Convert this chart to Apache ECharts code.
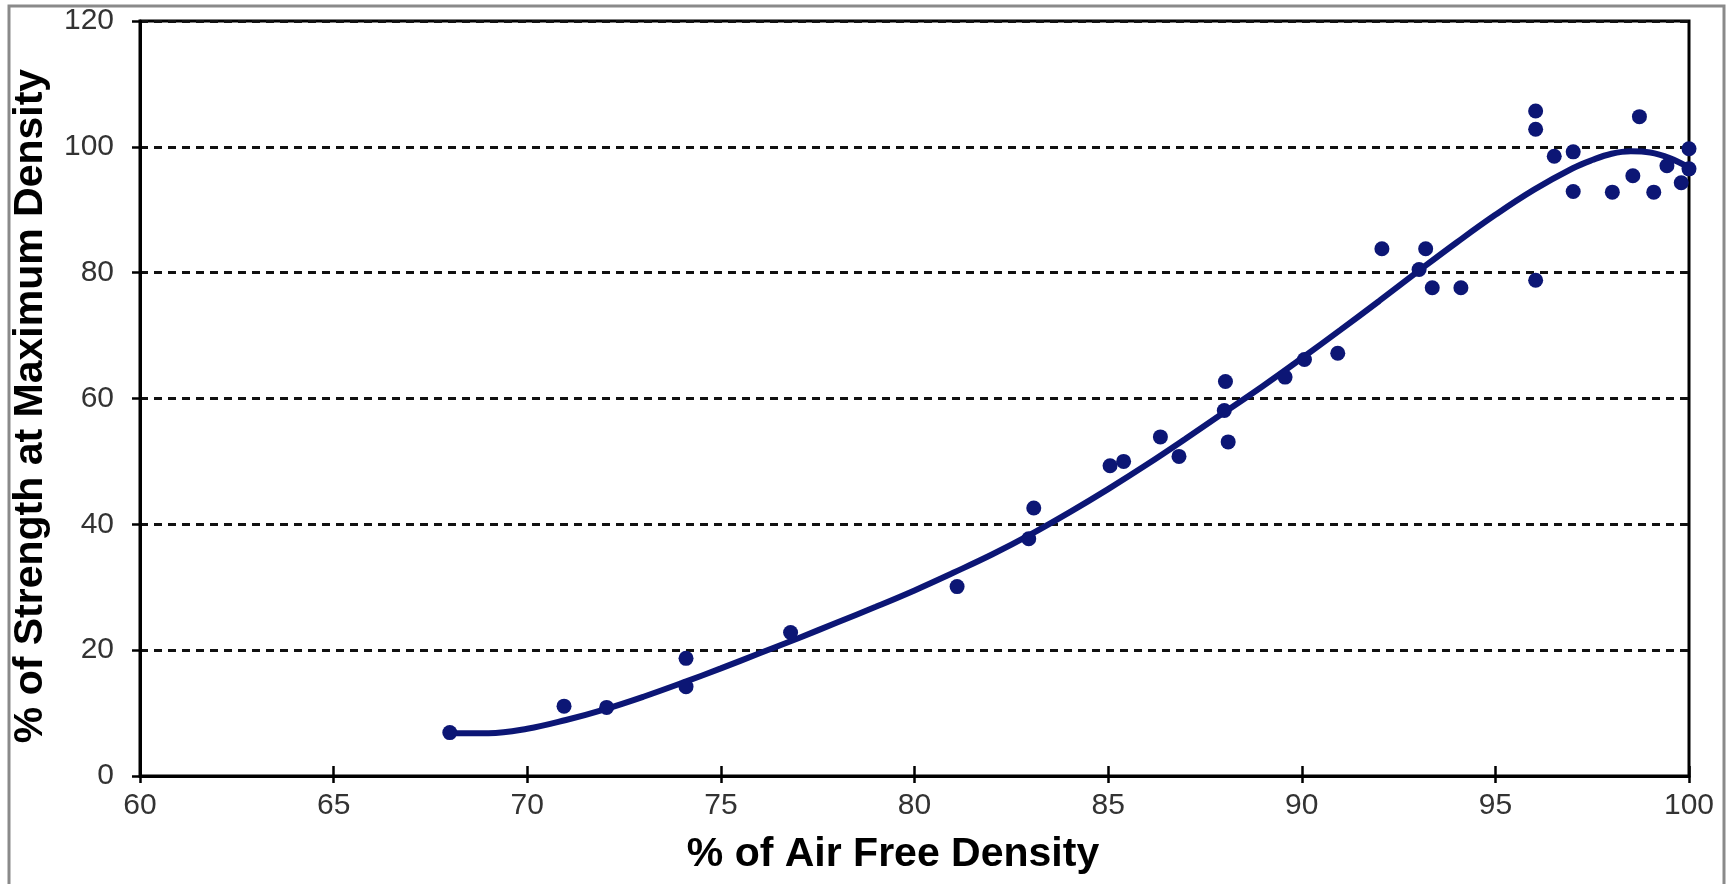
<!DOCTYPE html>
<html>
<head>
<meta charset="utf-8">
<script src="https://cdn.jsdelivr.net/npm/echarts@6/dist/echarts.min.js"></script>
<style>
  html, body { margin: 0; padding: 0; background: #ffffff; }
  #chart { width: 1731px; height: 884px; }
</style>
</head>
<body>
<div id="chart"></div>
<script>
// Measured data points (% of Air Free Density, % of Strength at Maximum Density)
const pointsX = [68.0, 70.95, 72.05, 74.1, 74.1, 76.8, 81.1, 82.95, 83.08, 85.05, 85.4, 86.35, 86.83,
  88.03, 88.0, 88.1, 89.57, 90.07, 90.93, 92.07, 93.03, 93.2, 93.37, 94.11, 96.04, 96.04, 96.04,
  96.52, 97.01, 97.01, 98.02, 98.55, 98.72, 99.09, 99.43, 99.8, 100.0, 100.0];
const pointsY = [6.9, 11.1, 10.9, 18.7, 14.2, 22.8, 30.1, 37.7, 42.6, 49.3, 50.0, 53.9, 50.8,
  62.7, 58.1, 53.1, 63.4, 66.2, 67.2, 83.8, 80.5, 83.8, 77.6, 77.6, 105.7, 102.8, 78.8,
  98.5, 99.2, 92.9, 92.8, 95.4, 104.8, 92.8, 97.0, 94.3, 99.7, 96.5];

// Trend curve
const curveX = [68, 69, 70, 71, 72, 73, 74, 75, 76, 77, 78, 79, 80, 81, 82, 83, 84, 85, 86, 87, 88,
  89, 90, 91, 92, 93, 94, 95, 96, 97, 97.5, 98, 98.5, 99, 99.5, 100];
const curveY = [6.8, 6.8, 7.5, 8.9, 10.6, 12.6, 14.8, 17.1, 19.5, 21.9, 24.4, 26.9, 29.5, 32.3, 35.2,
  38.4, 41.9, 45.6, 49.5, 53.6, 57.8, 62.0, 66.4, 70.9, 75.5, 80.2, 84.8, 89.2, 93.2, 96.6, 97.9,
  98.9, 99.3, 99.1, 98.2, 96.7];

const xTitle = '% of Air Free Density';
const yTitle = '% of Strength at Maximum Density';
const xRange = [60, 100, 5];
const yRange = [0, 120, 20];

const FONT = "'Liberation Sans', Arial, Helvetica, sans-serif";
const NAVY = '#0c1675';

const chart = echarts.init(document.getElementById('chart'), null, { renderer: 'canvas' });

const scatterData = pointsX.map((x, i) => [x, pointsY[i]]);
const curveData = curveX.map((x, i) => [x, curveY[i]]);

chart.setOption({
  backgroundColor: '#ffffff',
  animation: false,
  grid: {
    left: 140, right: 42, top: 21, bottom: 108,
    show: true, borderColor: '#000', borderWidth: 3, backgroundColor: 'transparent'
  },
  xAxis: [
    {
      type: 'value', min: xRange[0], max: xRange[1], interval: xRange[2],
      axisLine: { show: true, onZero: false, lineStyle: { color: '#000', width: 3 } },
      axisTick: { show: true, inside: false, length: 7, lineStyle: { color: '#000', width: 2.5 } },
      axisLabel: { color: '#333', fontSize: 30, fontFamily: FONT, margin: 15 },
      splitLine: { show: false }
    },
    {
      type: 'value', min: xRange[0], max: xRange[1], interval: xRange[2], position: 'bottom',
      axisLine: { show: false },
      axisTick: { show: true, inside: true, length: 10, lineStyle: { color: '#000', width: 2.5 } },
      axisLabel: { show: false },
      splitLine: { show: false }
    }
  ],
  yAxis: {
    type: 'value', min: yRange[0], max: yRange[1], interval: yRange[2],
    axisLine: { show: true, onZero: false, lineStyle: { color: '#000', width: 3 } },
    axisTick: { show: true, inside: false, length: 8, lineStyle: { color: '#000', width: 2.5 } },
    axisLabel: { color: '#333', fontSize: 30, fontFamily: FONT, margin: 26 },
    splitLine: { show: true, lineStyle: { color: '#111', width: 3, type: [8, 6] } }
  },
  series: [
    {
      type: 'line', data: curveData, smooth: 0.4, showSymbol: false, symbol: 'none',
      lineStyle: { color: NAVY, width: 6 }, z: 3, clip: false
    },
    {
      type: 'scatter', data: scatterData, symbol: 'circle', symbolSize: 15,
      itemStyle: { color: NAVY, opacity: 1 }, z: 4, clip: false
    }
  ],
  graphic: [
    {
      type: 'rect', silent: true, z: 100,
      shape: { x: 9, y: 6, width: 1715, height: 900 },
      style: { fill: 'none', stroke: '#8a8a8a', lineWidth: 3 }
    },
    {
      type: 'text', silent: true, x: 893, y: 855,
      style: { text: xTitle, font: 'bold 41px ' + FONT, fill: '#000', textAlign: 'center', textVerticalAlign: 'middle' }
    },
    {
      type: 'text', silent: true, x: 31, y: 406, rotation: Math.PI / 2,
      style: { text: yTitle, font: 'bold 41px ' + FONT, fill: '#000', textAlign: 'center', textVerticalAlign: 'middle' }
    }
  ]
});
</script>
</body>
</html>
